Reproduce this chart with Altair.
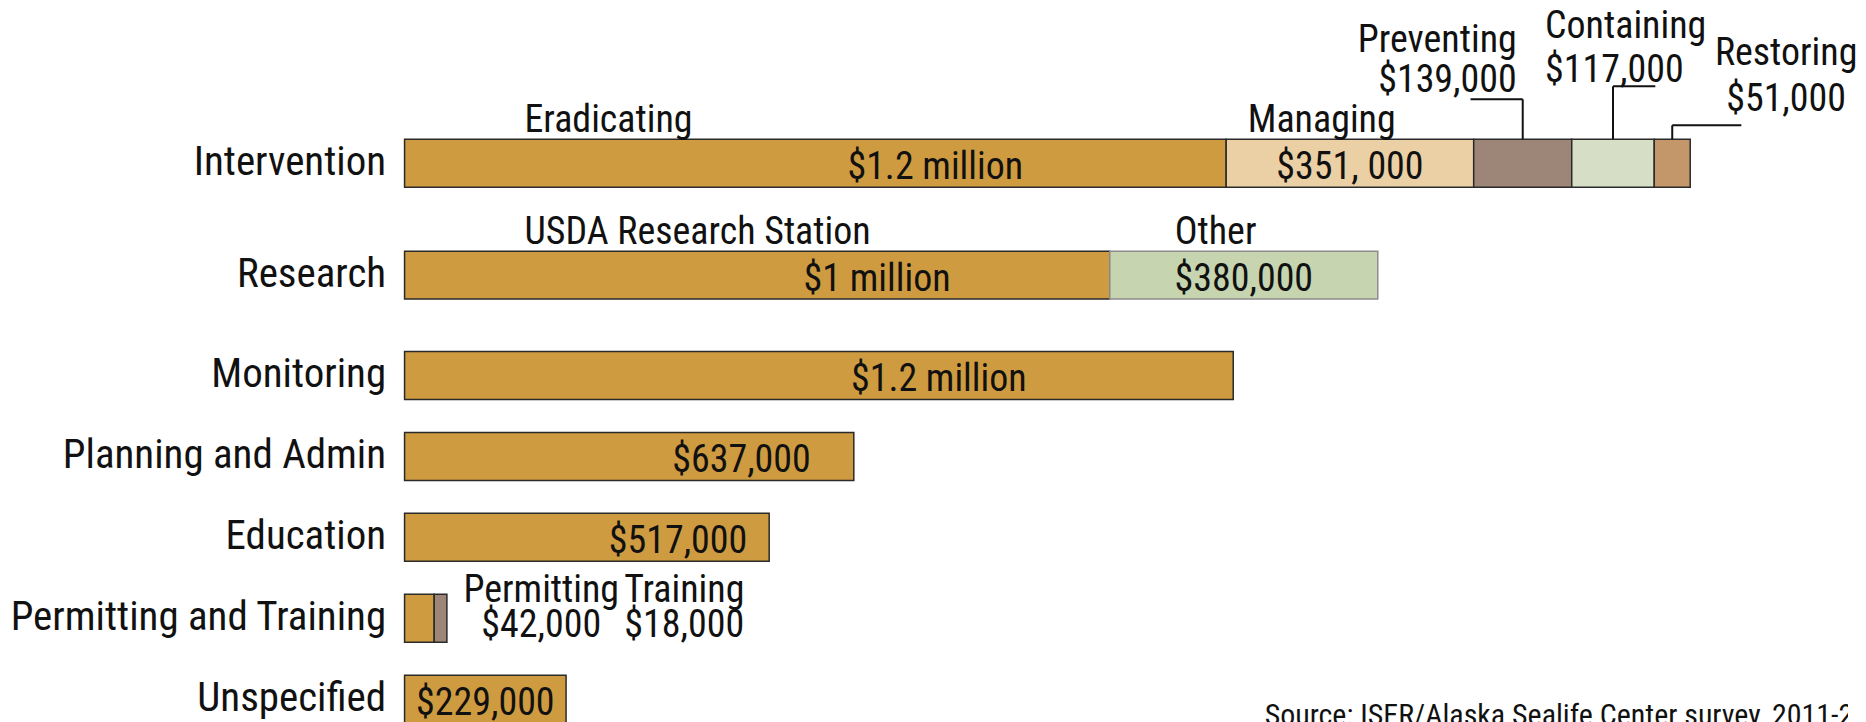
import altair as alt
import numpy as np
import pandas as pd

# ---------------- data ----------------
rows_top = ["Intervention", "Research"]
rows_bottom = ["Monitoring", "Planning and Admin", "Education",
               "Permitting and Training", "Unspecified"]

seg_row = (["Intervention"] * 5 + ["Research"] * 2 +
           ["Monitoring", "Planning and Admin", "Education",
            "Permitting and Training", "Permitting and Training", "Unspecified"])
seg_name = ["Eradicating", "Managing", "Preventing", "Containing", "Restoring",
            "USDA Research Station", "Other",
            "Monitoring", "Planning and Admin", "Education",
            "Permitting", "Training", "Unspecified"]
seg_value = [1165000, 351000, 139000, 117000, 51000,
             1000000, 380000,
             1175000, 637000, 517000,
             42000, 18000, 229000]
seg_amount = ["$1.2 million", "$351, 000", "$139,000", "$117,000", "$51,000",
              "$1 million", "$380,000",
              "$1.2 million", "$637,000", "$517,000",
              "$42,000", "$18,000", "$229,000"]
named_segments = ["Eradicating", "Managing", "USDA Research Station", "Other"]
leader_segments = ["Preventing", "Containing", "Restoring"]
side_segments = ["Permitting", "Training"]
source_note = "Source: ISER/Alaska Sealife Center survey, 2011-2012"

# ---------------- styling ----------------
F = "Liberation Sans Narrow, Roboto Condensed, DejaVu Sans Condensed, sans-serif"
TXT = "#111111"
seg_colors = ["#CF9B40", "#ECD0A5", "#9D8677", "#D7DEC6", "#C4976B",
              "#CF9B40", "#C6D4B0",
              "#CF9B40", "#CF9B40", "#CF9B40",
              "#CF9B40", "#9D8677", "#CF9B40"]
W = 1412                # top panel width
XMAX = 2000000
W2 = 1445               # bottom panel width (same px per dollar)
XMAX2 = XMAX * W2 / W
BAR_H = 48
STEP_TOP = 112
STEP_BOTTOM = 81
SHIFT = 170000          # label shift (data units) for long first segments

leader_style = {
    "Preventing": dict(align="right", dx=-6, name_dy=-111, amt_dy=-71, rise=40, run=-74000),
    "Containing": dict(align="left", dx=-68, name_dy=-125, amt_dy=-81, rise=53, run=60000),
    "Restoring": dict(align="center", dx=114, name_dy=-98, amt_dy=-52, rise=14, run=98000),
}
side_style = {
    "Permitting": dict(dx=122, name_dy=-16, amt_dy=19),
    "Training": dict(dx=244, name_dy=-16, amt_dy=19),
}

# ---------------- table ----------------
df = pd.DataFrame({"row": seg_row, "seg": seg_name,
                   "value": seg_value, "amount": seg_amount})
df["x1"] = df.groupby("row")["value"].cumsum()
df["x0"] = df["x1"] - df["value"]
df["mid"] = (df["x0"] + df["x1"]) / 2
df["first"] = df["x0"] == 0
long_first = df["first"] & (df["value"] > 300000)
df["lx"] = df["mid"] + np.where(long_first, np.minimum(SHIFT, df["value"] * 0.25), 0)
df["tx"] = np.where(df["first"], df["x0"] + SHIFT, df["mid"] - 40000)
df["inside"] = ~df["seg"].isin(leader_segments + side_segments)
df["named"] = df["seg"].isin(named_segments)
df["hx"] = df["mid"] + df["seg"].map({k: v["run"] for k, v in leader_style.items()}).fillna(0)


def yenc(rows, step):
    p = 1 - BAR_H / step
    return alt.Y("row:N", sort=rows,
                 scale=alt.Scale(domain=rows, paddingInner=p, paddingOuter=p / 2),
                 axis=alt.Axis(title=None, domain=False, ticks=False, grid=False,
                               labelFontSize=41, labelFont=F, labelColor=TXT,
                               labelPadding=19, labelLimit=420,
                               minExtent=397, maxExtent=397))


def panel(rows, step, xmax):
    xscale = alt.Scale(domain=[0, xmax], nice=False, zero=True)
    d = df[df["row"].isin(rows)]
    base = alt.Chart(d)
    y = yenc(rows, step)
    band_top = (1 - BAR_H / step) / 2 * step   # pixel top of first bar
    layers = []
    layers.append(base.mark_bar(strokeWidth=1.5).encode(
        y=y,
        x=alt.X("x0:Q", scale=xscale, axis=None), x2="x1:Q",
        color=alt.Color("seg:N", scale=alt.Scale(domain=seg_name, range=seg_colors), legend=None),
        stroke=alt.condition(alt.datum.seg == "Other", alt.value("#8c8c8c"), alt.value("#2a2a2a")),
    ))
    layers.append(base.transform_filter("datum.inside").mark_text(
        font=F, fontSize=38, baseline="alphabetic", dy=16, color=TXT).encode(
        y=y, x=alt.X("lx:Q", scale=xscale, axis=None), text="amount:N"))
    layers.append(base.transform_filter("datum.named && datum.first").mark_text(
        font=F, fontSize=38, baseline="alphabetic", align="left", dy=-31, color=TXT).encode(
        y=y, x=alt.X("tx:Q", scale=xscale, axis=None), text="seg:N"))
    layers.append(base.transform_filter("datum.named && !datum.first").mark_text(
        font=F, fontSize=38, baseline="alphabetic", align="center", dy=-31, color=TXT).encode(
        y=y, x=alt.X("tx:Q", scale=xscale, axis=None), text="seg:N"))
    for s, st in leader_style.items():
        if s not in list(d["seg"]):
            continue
        sub = base.transform_filter(alt.datum.seg == s)
        ly = band_top - st["rise"]
        layers.append(sub.mark_rule(color="#111", strokeWidth=2).encode(
            x=alt.X("mid:Q", scale=xscale, axis=None),
            y=alt.value(ly), y2=alt.value(band_top)))
        layers.append(sub.mark_rule(color="#111", strokeWidth=2).encode(
            x=alt.X("mid:Q", scale=xscale, axis=None), x2="hx:Q",
            y=alt.value(ly)))
        for fld, dyk in (("seg", "name_dy"), ("amount", "amt_dy")):
            layers.append(sub.mark_text(font=F, fontSize=38, baseline="alphabetic",
                                        align=st["align"], dx=st["dx"], dy=st[dyk],
                                        color=TXT).encode(
                y=y, x=alt.X("mid:Q", scale=xscale, axis=None), text=f"{fld}:N"))
    for s, st in side_style.items():
        if s not in list(d["seg"]):
            continue
        sub = base.transform_filter(alt.datum.seg == s)
        for fld, dyk in (("seg", "name_dy"), ("amount", "amt_dy")):
            layers.append(sub.mark_text(font=F, fontSize=38, baseline="alphabetic",
                                        align="center", dx=st["dx"], dy=st[dyk],
                                        color=TXT).encode(
                y=y, x=alt.X("mid:Q", scale=xscale, axis=None), text=f"{fld}:N"))
    return layers


top = alt.layer(*panel(rows_top, STEP_TOP, XMAX)).properties(
    width=W, height=STEP_TOP * len(rows_top))

bottom_layers = panel(rows_bottom, STEP_BOTTOM, XMAX2)
bottom_layers.append(alt.Chart(pd.DataFrame({"t": [source_note]})).mark_text(
    font=F, fontSize=30, align="left", baseline="alphabetic", color=TXT, clip=True).encode(
    x=alt.value(861), y=alt.value(390), text="t:N"))
bottom = alt.layer(*bottom_layers).properties(width=W2, height=STEP_BOTTOM * len(rows_bottom))

chart = alt.vconcat(top, bottom, spacing=4).properties(
    padding={"left": 0, "top": 0, "right": 0, "bottom": 0},
    background="white",
).configure_view(strokeWidth=0)

chart.save("out.html", embed_options={"renderer": "svg", "actions": False})
